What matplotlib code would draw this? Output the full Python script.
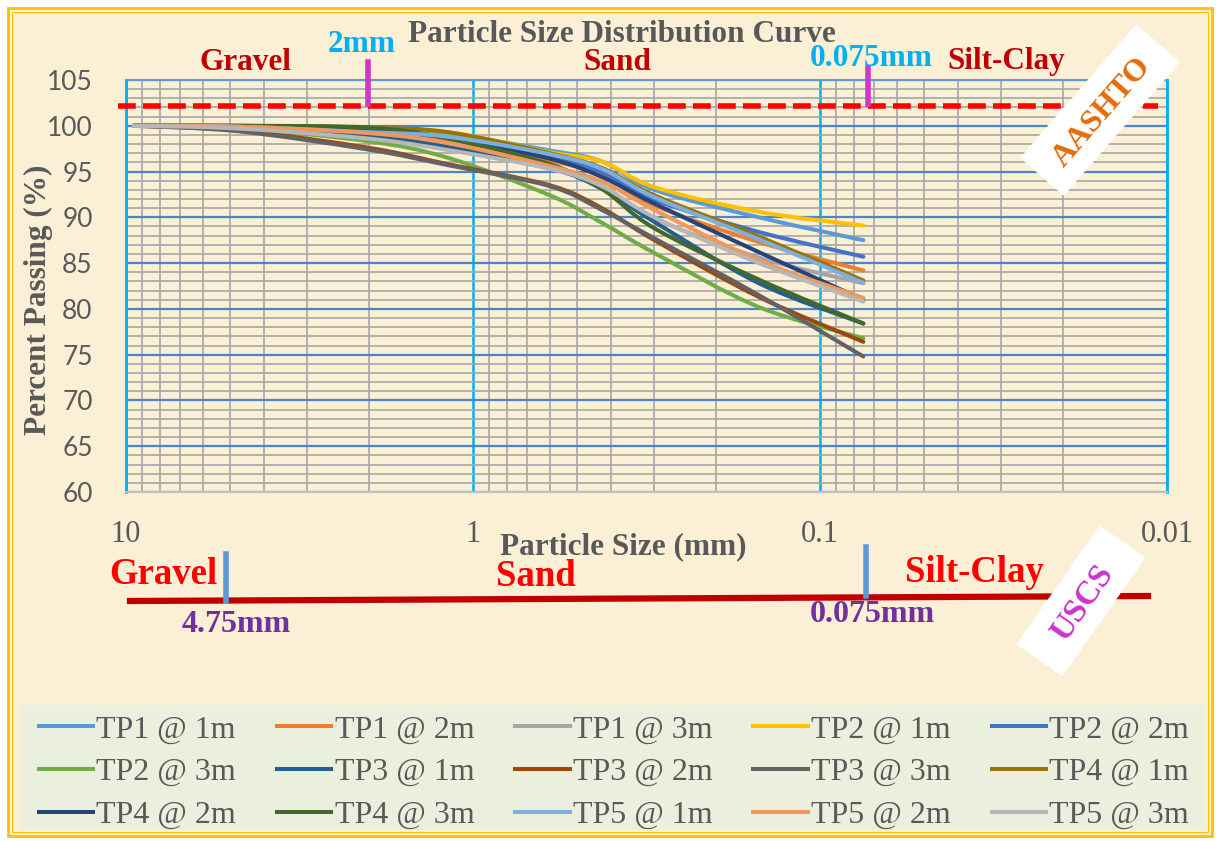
import numpy as np
import matplotlib
matplotlib.use('Agg')
import matplotlib.pyplot as plt
from matplotlib.path import Path
from matplotlib.patches import PathPatch, Rectangle
from matplotlib.lines import Line2D
from matplotlib.ticker import FixedLocator, NullFormatter

# sieve sizes (mm) and percent passing for each test pit / depth
sizes = [9.5, 4.75, 2.0, 1.18, 0.6, 0.425, 0.3, 0.15, 0.075]

labels = ['TP1 @ 1m', 'TP1 @ 2m', 'TP1 @ 3m', 'TP2 @ 1m', 'TP2 @ 2m',
          'TP2 @ 3m', 'TP3 @ 1m', 'TP3 @ 2m', 'TP3 @ 3m', 'TP4 @ 1m',
          'TP4 @ 2m', 'TP4 @ 3m', 'TP5 @ 1m', 'TP5 @ 2m', 'TP5 @ 3m']

tp1_1 = [100, 99.9, 99.5, 99.1, 97.3, 96.1, 93.0, 90.0, 87.5]
tp1_2 = [100, 100, 99.6, 98.5, 96.2, 94.6, 91.3, 87.3, 84.2]
tp1_3 = [100, 99.8, 99.0, 97.6, 95.3, 93.4, 89.9, 85.6, 82.8]
tp2_1 = [100, 100, 99.7, 99.3, 97.1, 96.1, 93.3, 90.6, 89.1]
tp2_2 = [100, 99.9, 99.3, 98.7, 96.5, 94.9, 91.9, 88.4, 85.7]
tp2_3 = [100, 99.7, 98.3, 96.5, 92.4, 89.4, 86.1, 80.2, 76.8]
tp3_1 = [100, 99.8, 98.9, 97.7, 95.4, 93.1, 89.5, 82.8, 78.4]
tp3_2 = [100, 99.5, 97.6, 95.8, 93.5, 91.0, 87.5, 81.3, 76.4]
tp3_3 = [100, 99.4, 97.4, 95.7, 93.4, 90.8, 87.7, 81.5, 74.8]
tp4_1 = [100, 100, 99.8, 99.3, 97.0, 95.4, 92.4, 87.9, 83.1]
tp4_2 = [100, 99.9, 99.4, 98.7, 96.4, 94.4, 91.5, 86.2, 81.0]
tp4_3 = [100, 100, 99.8, 98.6, 95.8, 93.1, 88.8, 83.2, 78.4]
tp5_1 = [100, 99.9, 99.3, 98.8, 96.9, 95.3, 92.2, 87.6, 82.85]
tp5_2 = [100, 99.9, 99.2, 98.1, 95.6, 93.9, 90.8, 85.3, 81.2]
tp5_3 = [100, 99.7, 98.6, 97.35, 95.3, 93.4, 90.0, 85.0, 80.8]

series = [tp1_1, tp1_2, tp1_3, tp2_1, tp2_2, tp2_3, tp3_1, tp3_2, tp3_3,
          tp4_1, tp4_2, tp4_3, tp5_1, tp5_2, tp5_3]

colors = ['#5B9BD5', '#ED7D31', '#A5A5A5', '#FFC000', '#4472C4',
          '#70AD47', '#255E91', '#9E480E', '#636363', '#997300',
          '#264478', '#43682B', '#7CAFDD', '#F1975A', '#B7B7B7']

W, H = 1216, 841
SERIF = 'Liberation Serif'
GREY = '#595959'


def smooth_path(xs, ys):
    # excel-like smoothed line: bezier segments built in log-x space
    pts = np.column_stack([np.log10(xs), ys])
    verts = [pts[0]]
    codes = [Path.MOVETO]
    n = len(pts)
    for i in range(n - 1):
        p0 = pts[i - 1] if i > 0 else pts[i]
        p1, p2 = pts[i], pts[i + 1]
        p3 = pts[i + 2] if i + 2 < n else pts[i + 1]
        verts += [p1 + (p2 - p0) / 6, p2 - (p3 - p1) / 6, p2]
        codes += [Path.CURVE4] * 3
    verts = np.array(verts)
    verts[:, 0] = 10 ** verts[:, 0]
    return Path(verts, codes)


def fx(px):
    return px / W


def fy(py):
    return 1 - py / H


def put(px, py, s, size, color, **kw):
    fig.text(fx(px), fy(py), s, ha='center', va='center', fontsize=size,
             color=color, family=SERIF, **kw)


fig = plt.figure(figsize=(W / 100, H / 100), dpi=100, facecolor='white')

# parchment background with gold double border
fig.add_artist(Rectangle((fx(8), fy(836)), fx(1204), 828 / H, transform=fig.transFigure,
                         facecolor='#FBEFD6', edgecolor='#FFC000', lw=2, zorder=-2))
fig.add_artist(Rectangle((fx(12), fy(832)), fx(1196), 820 / H, transform=fig.transFigure,
                         facecolor='none', edgecolor='#FFC000', lw=0.8, zorder=-1.5))
# legend panel
fig.add_artist(Rectangle((fx(20), fy(830)), fx(1185), 125 / H, transform=fig.transFigure,
                         facecolor='#EBF0DE', edgecolor='none', zorder=-1))

ax = fig.add_axes([fx(126), fy(492), fx(1167) - fx(126), (492 - 80) / H])
ax.set_facecolor('none')
ax.set_xscale('log')
ax.set_xlim(10, 0.01)
ax.set_ylim(60, 105)

ax.xaxis.set_major_locator(FixedLocator([10, 1, 0.1, 0.01]))
ax.set_xticklabels(['10', '1', '0.1', '0.01'])
minor_x = [m * d for d in (0.01, 0.1, 1) for m in range(2, 10)]
ax.xaxis.set_minor_locator(FixedLocator(minor_x))
ax.xaxis.set_minor_formatter(NullFormatter())
ax.set_yticks(range(60, 106, 5))
ax.set_yticks(range(60, 106), minor=True)

ax.grid(which='minor', axis='both', color='#A6A6A6', lw=1.2)
ax.grid(which='major', axis='y', color='#4A86C8', lw=1.6)
ax.grid(which='major', axis='x', color='#00B0F0', lw=1.8)
ax.set_axisbelow(True)

ax.tick_params(which='both', length=0)
ax.tick_params(axis='y', pad=24, labelsize=19, labelcolor=GREY)
ax.tick_params(axis='x', pad=20, labelsize=22, labelcolor=GREY)
for t in ax.get_yticklabels():
    t.set_family('Lato')
for t in ax.get_xticklabels():
    t.set_family(SERIF)

ax.spines['left'].set_color('#00B0F0')
ax.spines['left'].set_linewidth(2)
ax.spines['right'].set_color('#00B0F0')
ax.spines['right'].set_linewidth(2)
ax.spines['top'].set_color('#5B9BD5')
ax.spines['top'].set_linewidth(1.5)
ax.spines['bottom'].set_color('#BFBFBF')
ax.spines['bottom'].set_linewidth(1.5)

handles = []
for vals, c, lab in zip(series, colors, labels):
    ax.add_patch(PathPatch(smooth_path(sizes, vals), fill=False, edgecolor=c,
                           lw=2.9, capstyle='round', joinstyle='round', zorder=3))
    handles.append(Line2D([], [], color=c, lw=2.9, label=lab))

# legend filled row by row (matplotlib fills column first)
order = [r * 5 + c for c in range(5) for r in range(3)]
fig.legend([handles[i] for i in order], [labels[i] for i in order], ncol=5,
           loc='upper left', bbox_to_anchor=(fx(39), fy(715)), frameon=False,
           prop={'family': SERIF, 'size': 23}, labelcolor=GREY,
           handlelength=1.7, handletextpad=0.1, columnspacing=1.28,
           labelspacing=0.42, borderpad=0, borderaxespad=0)

# title and axis titles
put(622, 35, 'Particle Size Distribution Curve', 22.5, GREY, weight='bold')
put(623, 547, 'Particle Size (mm)', 22.5, GREY, weight='bold')
put(38, 300, 'Percent Passing (%)', 22.5, GREY, weight='bold', rotation=90)

# AASHTO classification (top)
fig.add_artist(Line2D([fx(118), fx(1158)], [fy(105.5), fy(105.5)], color='#FF0000',
                      lw=4, linestyle=(0, (3.2, 1.3)), transform=fig.transFigure))
for xp, y0 in ((368, 62), (868, 68)):
    fig.add_artist(Line2D([fx(xp), fx(xp)], [fy(y0), fy(104)], color='#D036C8',
                          lw=4, transform=fig.transFigure))
put(245, 62, 'Gravel', 22.5, '#C00000', weight='bold')
put(362, 45, '2mm', 22.5, '#00B0F0', weight='bold')
put(617, 62, 'Sand', 22.5, '#C00000', weight='bold')
put(871, 59, '0.075mm', 22.5, '#00B0F0', weight='bold')
put(1006, 62, 'Silt-Clay', 22.5, '#C00000', weight='bold')

# USCS classification (bottom)
fig.add_artist(Line2D([fx(130), fx(1148)], [fy(601), fy(596)], color='#C00000',
                      lw=4.5, transform=fig.transFigure))
fig.add_artist(Line2D([fx(226), fx(226)], [fy(554), fy(601)], color='#5B9BD5',
                      lw=4, transform=fig.transFigure))
fig.add_artist(Line2D([fx(866), fx(866)], [fy(547), fy(596)], color='#5B9BD5',
                      lw=4, transform=fig.transFigure))
put(163, 575, 'Gravel', 26.5, '#FF0000', weight='bold')
put(536, 577, 'Sand', 26.5, '#FF0000', weight='bold')
put(974, 572, 'Silt-Clay', 26.5, '#FF0000', weight='bold')
put(236, 625, '4.75mm', 23, '#7030A0', weight='bold')
put(872, 615, '0.075mm', 23, '#7030A0', weight='bold')

# rotated white tags
for cx, cy, ln, wd, ang, txt, col, fs in ((1100, 110, 177, 58, 49, 'AASHTO', '#E46C0A', 23),
                                          (1081, 601, 145, 56, 55, 'USCS', '#CC33CC', 24)):
    fig.add_artist(Rectangle(((cx - ln / 2) / 100, (H - cy - wd / 2) / 100), ln / 100, wd / 100,
                             angle=ang, rotation_point='center', transform=fig.dpi_scale_trans,
                             facecolor='white', edgecolor='none', zorder=4))
    put(cx + 2, cy + 2, txt, fs, col, weight='bold', rotation=ang, zorder=5,
        rotation_mode='anchor')

fig.savefig('out.png', dpi=100, facecolor=fig.get_facecolor())
